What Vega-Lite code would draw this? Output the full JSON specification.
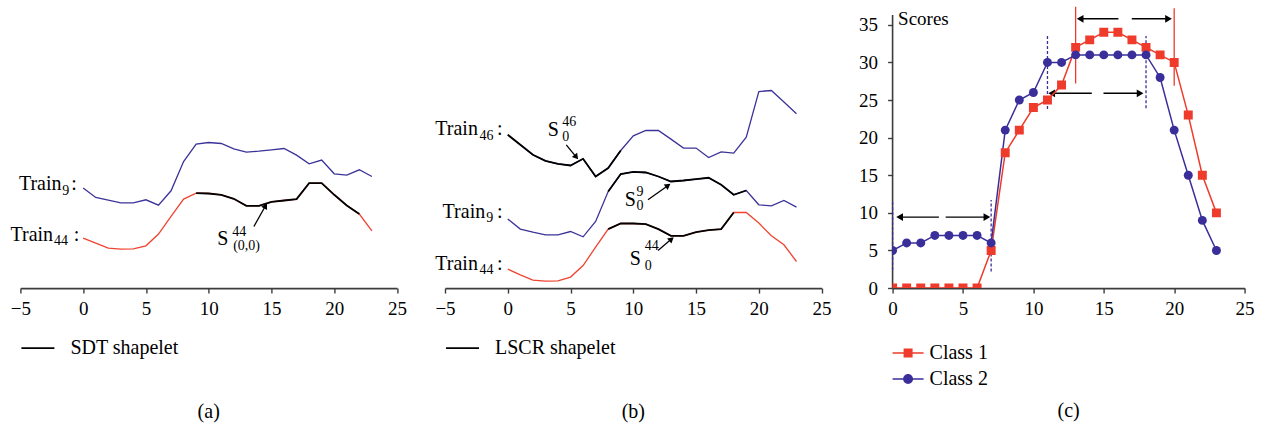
{
  "$schema": "https://vega.github.io/schema/vega-lite/v6.json",
  "padding": {"left": 9.4, "top": 6, "right": 5, "bottom": 5},
  "spacing": 26.6,
  "resolve": {"scale": {"color": "independent"}, "legend": {"color": "independent"}},
  "config": {
    "view": {"stroke": null},
    "font": "Liberation Serif",
    "axis": {"labelFont": "Liberation Serif", "labelFontSize": 19, "labelColor": "#000", "domainColor": "#3c3c3c", "tickColor": "#3c3c3c", "domainWidth": 1.6, "tickWidth": 1.4, "grid": false, "titleFont": "Liberation Serif", "titleFontWeight": "normal", "titleColor": "#000", "labelOverlap": false, "labelFlush": false},
    "legend": {"labelFont": "Liberation Serif", "labelFontSize": 20, "labelColor": "#000"},
    "title": {"font": "Liberation Serif", "fontSize": 20, "fontWeight": "normal", "color": "#000"}
  },
  "datasets": {
    "a_series": [
      {"s": "Train9", "x": 0, "v": 100}, {"s": "Train9", "x": 1, "v": 90.6}, {"s": "Train9", "x": 2, "v": 88}, {"s": "Train9", "x": 3, "v": 85.3}, {"s": "Train9", "x": 4, "v": 85.3}, {"s": "Train9", "x": 5, "v": 88.3}, {"s": "Train9", "x": 6, "v": 83}, {"s": "Train9", "x": 7, "v": 97.3}, {"s": "Train9", "x": 8, "v": 126.6}, {"s": "Train9", "x": 9, "v": 144}, {"s": "Train9", "x": 10, "v": 145.6}, {"s": "Train9", "x": 11, "v": 144.6}, {"s": "Train9", "x": 12, "v": 139.3}, {"s": "Train9", "x": 13, "v": 136}, {"s": "Train9", "x": 14, "v": 137}, {"s": "Train9", "x": 15, "v": 138.3}, {"s": "Train9", "x": 16, "v": 139.6}, {"s": "Train9", "x": 17, "v": 133}, {"s": "Train9", "x": 18, "v": 124.3}, {"s": "Train9", "x": 19, "v": 128}, {"s": "Train9", "x": 20, "v": 114.3}, {"s": "Train9", "x": 21, "v": 113}, {"s": "Train9", "x": 22, "v": 118.3}, {"s": "Train9", "x": 23, "v": 111.6},
      {"s": "Train44", "x": 0, "v": 50}, {"s": "Train44", "x": 1, "v": 45}, {"s": "Train44", "x": 2, "v": 40}, {"s": "Train44", "x": 3, "v": 39}, {"s": "Train44", "x": 4, "v": 39.3}, {"s": "Train44", "x": 5, "v": 42.3}, {"s": "Train44", "x": 6, "v": 54}, {"s": "Train44", "x": 7, "v": 71.6}, {"s": "Train44", "x": 8, "v": 89}, {"s": "Train44", "x": 9, "v": 95}, {"s": "Train44", "x": 10, "v": 94.6}, {"s": "Train44", "x": 11, "v": 93.3}, {"s": "Train44", "x": 12, "v": 89.3}, {"s": "Train44", "x": 13, "v": 82.3}, {"s": "Train44", "x": 14, "v": 82.3}, {"s": "Train44", "x": 15, "v": 86.3}, {"s": "Train44", "x": 16, "v": 87.6}, {"s": "Train44", "x": 17, "v": 89}, {"s": "Train44", "x": 18, "v": 105}, {"s": "Train44", "x": 19, "v": 105}, {"s": "Train44", "x": 20, "v": 93.3}, {"s": "Train44", "x": 21, "v": 82.6}, {"s": "Train44", "x": 22, "v": 74}, {"s": "Train44", "x": 23, "v": 57.3}
    ],
    "b_series": [
      {"s": "Train46", "x": 0, "v": 153.3}, {"s": "Train46", "x": 1, "v": 143.3}, {"s": "Train46", "x": 2, "v": 133.3}, {"s": "Train46", "x": 3, "v": 127.3}, {"s": "Train46", "x": 4, "v": 124.3}, {"s": "Train46", "x": 5, "v": 122.6}, {"s": "Train46", "x": 6, "v": 129.3}, {"s": "Train46", "x": 7, "v": 111.6}, {"s": "Train46", "x": 8, "v": 120}, {"s": "Train46", "x": 9, "v": 137.6}, {"s": "Train46", "x": 10, "v": 152.3}, {"s": "Train46", "x": 11, "v": 157.6}, {"s": "Train46", "x": 12, "v": 157.6}, {"s": "Train46", "x": 13, "v": 149}, {"s": "Train46", "x": 14, "v": 140}, {"s": "Train46", "x": 15, "v": 140}, {"s": "Train46", "x": 16, "v": 130.6}, {"s": "Train46", "x": 17, "v": 136.3}, {"s": "Train46", "x": 18, "v": 135}, {"s": "Train46", "x": 19, "v": 151}, {"s": "Train46", "x": 20, "v": 196.6}, {"s": "Train46", "x": 21, "v": 197.6}, {"s": "Train46", "x": 22, "v": 186}, {"s": "Train46", "x": 23, "v": 174.3},
      {"s": "Train9", "x": 0, "v": 69}, {"s": "Train9", "x": 1, "v": 59}, {"s": "Train9", "x": 2, "v": 56}, {"s": "Train9", "x": 3, "v": 53.3}, {"s": "Train9", "x": 4, "v": 53.3}, {"s": "Train9", "x": 5, "v": 56.6}, {"s": "Train9", "x": 6, "v": 51.3}, {"s": "Train9", "x": 7, "v": 66.6}, {"s": "Train9", "x": 8, "v": 96.6}, {"s": "Train9", "x": 9, "v": 114}, {"s": "Train9", "x": 10, "v": 116.3}, {"s": "Train9", "x": 11, "v": 115.6}, {"s": "Train9", "x": 12, "v": 111.6}, {"s": "Train9", "x": 13, "v": 106.6}, {"s": "Train9", "x": 14, "v": 107.6}, {"s": "Train9", "x": 15, "v": 109}, {"s": "Train9", "x": 16, "v": 110.3}, {"s": "Train9", "x": 17, "v": 103.3}, {"s": "Train9", "x": 18, "v": 93.3}, {"s": "Train9", "x": 19, "v": 97.6}, {"s": "Train9", "x": 20, "v": 83.3}, {"s": "Train9", "x": 21, "v": 82.3}, {"s": "Train9", "x": 22, "v": 87.6}, {"s": "Train9", "x": 23, "v": 81},
      {"s": "Train44", "x": 0, "v": 19}, {"s": "Train44", "x": 1, "v": 13.3}, {"s": "Train44", "x": 2, "v": 8}, {"s": "Train44", "x": 3, "v": 7}, {"s": "Train44", "x": 4, "v": 7.3}, {"s": "Train44", "x": 5, "v": 11}, {"s": "Train44", "x": 6, "v": 22.6}, {"s": "Train44", "x": 7, "v": 41}, {"s": "Train44", "x": 8, "v": 59}, {"s": "Train44", "x": 9, "v": 64.6}, {"s": "Train44", "x": 10, "v": 64.6}, {"s": "Train44", "x": 11, "v": 64}, {"s": "Train44", "x": 12, "v": 59}, {"s": "Train44", "x": 13, "v": 52.3}, {"s": "Train44", "x": 14, "v": 52.3}, {"s": "Train44", "x": 15, "v": 56}, {"s": "Train44", "x": 16, "v": 58}, {"s": "Train44", "x": 17, "v": 59}, {"s": "Train44", "x": 18, "v": 75.6}, {"s": "Train44", "x": 19, "v": 75.6}, {"s": "Train44", "x": 20, "v": 65}, {"s": "Train44", "x": 21, "v": 52.3}, {"s": "Train44", "x": 22, "v": 43.3}, {"s": "Train44", "x": 23, "v": 26.6}
    ],
    "a_text": [
      {"x": -5.12, "v": 98.3, "t": "Train", "r": "main"},
      {"x": -1.67, "v": 93.3, "t": "9", "r": "script"},
      {"x": -0.95, "v": 98.3, "t": ":", "r": "main"},
      {"x": -5.79, "v": 47.3, "t": "Train", "r": "main"},
      {"x": -2.33, "v": 43.3, "t": "44", "r": "script"},
      {"x": -0.75, "v": 47.3, "t": ":", "r": "main"},
      {"x": 10.68, "v": 43.3, "t": "S", "r": "main"},
      {"x": 11.87, "v": 52.3, "t": "44", "r": "script"},
      {"x": 11.95, "v": 38.3, "t": "(0,0)", "r": "script"}
    ],
    "b_text": [
      {"x": -5.77, "v": 153.3, "t": "Train", "r": "main"},
      {"x": -2.26, "v": 148.3, "t": "46", "r": "script"},
      {"x": -0.85, "v": 153.3, "t": ":", "r": "main"},
      {"x": -5.19, "v": 70, "t": "Train", "r": "main"},
      {"x": -1.72, "v": 65.6, "t": "9", "r": "script"},
      {"x": -0.85, "v": 70, "t": ":", "r": "main"},
      {"x": -5.77, "v": 18.3, "t": "Train", "r": "main"},
      {"x": -2.26, "v": 14.3, "t": "44", "r": "script"},
      {"x": -0.85, "v": 18.3, "t": ":", "r": "main"},
      {"x": 3.19, "v": 151.6, "t": "S", "r": "main"},
      {"x": 4.34, "v": 161.6, "t": "46", "r": "script"},
      {"x": 4.34, "v": 146.6, "t": "0", "r": "script"},
      {"x": 9.31, "v": 81.6, "t": "S", "r": "main"},
      {"x": 10.25, "v": 91.6, "t": "9", "r": "script"},
      {"x": 10.25, "v": 78.3, "t": "0", "r": "script"},
      {"x": 9.71, "v": 23.3, "t": "S", "r": "main"},
      {"x": 10.91, "v": 38.3, "t": "44", "r": "script"},
      {"x": 10.91, "v": 18.3, "t": "0", "r": "script"}
    ],
    "a_arrows": [
      {"id": "a1", "x": 13.6, "v": 61.6, "x2": 14.53, "v2": 82.3}
    ],
    "b_arrows": [
      {"id": "b46", "x": 4.66, "v": 143.3, "x2": 5.46, "v2": 131},
      {"id": "b9", "x": 11.17, "v": 88.3, "x2": 12.77, "v2": 102.6},
      {"id": "b44", "x": 11.97, "v": 37.6, "x2": 13.04, "v2": 49}
    ],
    "c_scores": [
      {"cls": "Class 1", "x": 0, "y": 0}, {"cls": "Class 1", "x": 1, "y": 0}, {"cls": "Class 1", "x": 2, "y": 0}, {"cls": "Class 1", "x": 3, "y": 0}, {"cls": "Class 1", "x": 4, "y": 0}, {"cls": "Class 1", "x": 5, "y": 0}, {"cls": "Class 1", "x": 6, "y": 0}, {"cls": "Class 1", "x": 7, "y": 5}, {"cls": "Class 1", "x": 8, "y": 18}, {"cls": "Class 1", "x": 9, "y": 21}, {"cls": "Class 1", "x": 10, "y": 24}, {"cls": "Class 1", "x": 11, "y": 25}, {"cls": "Class 1", "x": 12, "y": 27}, {"cls": "Class 1", "x": 13, "y": 32}, {"cls": "Class 1", "x": 14, "y": 33}, {"cls": "Class 1", "x": 15, "y": 34}, {"cls": "Class 1", "x": 16, "y": 34}, {"cls": "Class 1", "x": 17, "y": 33}, {"cls": "Class 1", "x": 18, "y": 32}, {"cls": "Class 1", "x": 19, "y": 31}, {"cls": "Class 1", "x": 20, "y": 30}, {"cls": "Class 1", "x": 21, "y": 23}, {"cls": "Class 1", "x": 22, "y": 15}, {"cls": "Class 1", "x": 23, "y": 10},
      {"cls": "Class 2", "x": 0, "y": 5}, {"cls": "Class 2", "x": 1, "y": 6}, {"cls": "Class 2", "x": 2, "y": 6}, {"cls": "Class 2", "x": 3, "y": 7}, {"cls": "Class 2", "x": 4, "y": 7}, {"cls": "Class 2", "x": 5, "y": 7}, {"cls": "Class 2", "x": 6, "y": 7}, {"cls": "Class 2", "x": 7, "y": 6}, {"cls": "Class 2", "x": 8, "y": 21}, {"cls": "Class 2", "x": 9, "y": 25}, {"cls": "Class 2", "x": 10, "y": 26}, {"cls": "Class 2", "x": 11, "y": 30}, {"cls": "Class 2", "x": 12, "y": 30}, {"cls": "Class 2", "x": 13, "y": 31}, {"cls": "Class 2", "x": 14, "y": 31}, {"cls": "Class 2", "x": 15, "y": 31}, {"cls": "Class 2", "x": 16, "y": 31}, {"cls": "Class 2", "x": 17, "y": 31}, {"cls": "Class 2", "x": 18, "y": 31}, {"cls": "Class 2", "x": 19, "y": 28}, {"cls": "Class 2", "x": 20, "y": 21}, {"cls": "Class 2", "x": 21, "y": 15}, {"cls": "Class 2", "x": 22, "y": 9}, {"cls": "Class 2", "x": 23, "y": 5}
    ],
    "c_vlines": [
      {"k": "dotted", "x": 0, "y": 2.4, "y2": 11.7},
      {"k": "dotted", "x": 7, "y": 2.2, "y2": 11.7},
      {"k": "dotted", "x": 11, "y": 23.8, "y2": 33.5},
      {"k": "dotted", "x": 18, "y": 23.9, "y2": 33.5},
      {"k": "solid", "x": 13, "y": 27.2, "y2": 37.4},
      {"k": "solid", "x": 20, "y": 26.9, "y2": 37.2}
    ],
    "c_arrows": [
      {"side": "L", "x1": 0.5, "x2": 3.29, "y": 9.44},
      {"side": "R", "x1": 3.77, "x2": 6.7, "y": 9.44},
      {"side": "L", "x1": 11.3, "x2": 14.15, "y": 25.9},
      {"side": "R", "x1": 14.98, "x2": 17.58, "y": 25.9},
      {"side": "L", "x1": 13.32, "x2": 16.04, "y": 35.8},
      {"side": "R", "x1": 16.99, "x2": 19.6, "y": 35.8}
    ],
    "c_yaxis": [
      {"x": 0, "y": 0, "y2": 36.3}
    ]
  },
  "hconcat": [
    {
      "width": 376.6,
      "height": 282.1,
      "title": {"text": "(a)", "orient": "bottom", "anchor": "middle", "frame": "group", "offset": 43},
      "layer": [
        {
          "data": {"name": "a_series"},
          "mark": {"type": "line", "strokeWidth": 1.3},
          "encoding": {
            "x": {"field": "x", "type": "quantitative", "scale": {"domain": [-5, 25], "nice": false, "zero": false},
              "axis": {"title": null, "values": [-5, -2.5, 0, 2.5, 5, 7.5, 10, 12.5, 15, 17.5, 20, 22.5, 25], "labelExpr": "datum.value % 5 === 0 ? datum.label : ''", "tickSize": {"condition": {"test": "datum.value % 5 === 0", "value": 5}, "value": 3}, "labelPadding": 6}},
            "y": {"field": "v", "type": "quantitative", "scale": {"domain": [0, 282.1], "nice": false, "zero": false}, "axis": null},
            "color": {"field": "s", "type": "nominal", "scale": {"domain": ["Train9", "Train44", "SDT shapelet"], "range": ["#3b3399", "#ef4430", "#000000"]},
              "legend": {"values": ["SDT shapelet"], "title": null, "orient": "none", "legendX": 0, "legendY": 324.6, "symbolType": "stroke", "symbolSize": 1089, "symbolStrokeWidth": 1.8, "labelOffset": 15}}
          }
        },
        {
          "data": {"name": "a_series"},
          "transform": [{"filter": "datum.s === 'Train44' && datum.x >= 9 && datum.x <= 22"}],
          "mark": {"type": "line", "strokeWidth": 1.8, "color": "#000000"},
          "encoding": {"x": {"field": "x", "type": "quantitative"}, "y": {"field": "v", "type": "quantitative"}}
        },
        {
          "data": {"name": "a_text"},
          "transform": [{"filter": "datum.r === 'main'"}],
          "mark": {"type": "text", "align": "left", "baseline": "alphabetic", "fontSize": 20, "font": "Liberation Serif", "color": "#000"},
          "encoding": {"x": {"field": "x", "type": "quantitative"}, "y": {"field": "v", "type": "quantitative"}, "text": {"field": "t"}}
        },
        {
          "data": {"name": "a_text"},
          "transform": [{"filter": "datum.r === 'script'"}],
          "mark": {"type": "text", "align": "left", "baseline": "alphabetic", "fontSize": 14, "font": "Liberation Serif", "color": "#000"},
          "encoding": {"x": {"field": "x", "type": "quantitative"}, "y": {"field": "v", "type": "quantitative"}, "text": {"field": "t"}}
        },
        {
          "data": {"name": "a_arrows"},
          "mark": {"type": "rule", "strokeWidth": 1.3, "color": "#000"},
          "encoding": {"x": {"field": "x", "type": "quantitative"}, "y": {"field": "v", "type": "quantitative"}, "x2": {"field": "x2"}, "y2": {"field": "v2"}}
        },
        {
          "data": {"name": "a_arrows"},
          "transform": [{"filter": "datum.id === 'a1'"}],
          "mark": {"type": "point", "shape": "triangle-up", "filled": true, "color": "#000", "opacity": 1, "size": 45, "angle": 29.5},
          "encoding": {"x": {"field": "x2", "type": "quantitative"}, "y": {"field": "v2", "type": "quantitative"}}
        }
      ]
    },
    {
      "width": 376.6,
      "height": 282.1,
      "title": {"text": "(b)", "orient": "bottom", "anchor": "middle", "frame": "group", "offset": 43},
      "layer": [
        {
          "data": {"name": "b_series"},
          "mark": {"type": "line", "strokeWidth": 1.3},
          "encoding": {
            "x": {"field": "x", "type": "quantitative", "scale": {"domain": [-5, 25], "nice": false, "zero": false},
              "axis": {"title": null, "values": [-5, -2.5, 0, 2.5, 5, 7.5, 10, 12.5, 15, 17.5, 20, 22.5, 25], "labelExpr": "datum.value % 5 === 0 ? datum.label : ''", "tickSize": {"condition": {"test": "datum.value % 5 === 0", "value": 5}, "value": 3}, "labelPadding": 6}},
            "y": {"field": "v", "type": "quantitative", "scale": {"domain": [0, 282.1], "nice": false, "zero": false}, "axis": null},
            "color": {"field": "s", "type": "nominal", "scale": {"domain": ["Train46", "Train9", "Train44", "LSCR shapelet"], "range": ["#3b3399", "#3b3399", "#ef4430", "#000000"]},
              "legend": {"values": ["LSCR shapelet"], "title": null, "orient": "none", "legendX": 0, "legendY": 324.6, "symbolType": "stroke", "symbolSize": 1089, "symbolStrokeWidth": 1.8, "labelOffset": 15}}
          }
        },
        {
          "data": {"name": "b_series"},
          "transform": [{"filter": "(datum.s === 'Train46' && datum.x <= 9) || (datum.s === 'Train9' && datum.x >= 8 && datum.x <= 19) || (datum.s === 'Train44' && datum.x >= 8 && datum.x <= 18)"}],
          "mark": {"type": "line", "strokeWidth": 1.8, "color": "#000000"},
          "encoding": {"x": {"field": "x", "type": "quantitative"}, "y": {"field": "v", "type": "quantitative"}, "detail": {"field": "s", "type": "nominal"}}
        },
        {
          "data": {"name": "b_text"},
          "transform": [{"filter": "datum.r === 'main'"}],
          "mark": {"type": "text", "align": "left", "baseline": "alphabetic", "fontSize": 20, "font": "Liberation Serif", "color": "#000"},
          "encoding": {"x": {"field": "x", "type": "quantitative"}, "y": {"field": "v", "type": "quantitative"}, "text": {"field": "t"}}
        },
        {
          "data": {"name": "b_text"},
          "transform": [{"filter": "datum.r === 'script'"}],
          "mark": {"type": "text", "align": "left", "baseline": "alphabetic", "fontSize": 14, "font": "Liberation Serif", "color": "#000"},
          "encoding": {"x": {"field": "x", "type": "quantitative"}, "y": {"field": "v", "type": "quantitative"}, "text": {"field": "t"}}
        },
        {
          "data": {"name": "b_arrows"},
          "mark": {"type": "rule", "strokeWidth": 1.3, "color": "#000"},
          "encoding": {"x": {"field": "x", "type": "quantitative"}, "y": {"field": "v", "type": "quantitative"}, "x2": {"field": "x2"}, "y2": {"field": "v2"}}
        },
        {
          "data": {"name": "b_arrows"},
          "transform": [{"filter": "datum.id === 'b46'"}],
          "mark": {"type": "point", "shape": "triangle-up", "filled": true, "color": "#000", "opacity": 1, "size": 45, "angle": 141},
          "encoding": {"x": {"field": "x2", "type": "quantitative"}, "y": {"field": "v2", "type": "quantitative"}}
        },
        {
          "data": {"name": "b_arrows"},
          "transform": [{"filter": "datum.id === 'b9'"}],
          "mark": {"type": "point", "shape": "triangle-up", "filled": true, "color": "#000", "opacity": 1, "size": 45, "angle": 54.4},
          "encoding": {"x": {"field": "x2", "type": "quantitative"}, "y": {"field": "v2", "type": "quantitative"}}
        },
        {
          "data": {"name": "b_arrows"},
          "transform": [{"filter": "datum.id === 'b44'"}],
          "mark": {"type": "point", "shape": "triangle-up", "filled": true, "color": "#000", "opacity": 1, "size": 45, "angle": 49.6},
          "encoding": {"x": {"field": "x2", "type": "quantitative"}, "y": {"field": "v2", "type": "quantitative"}}
        }
      ]
    },
    {
      "width": 352,
      "height": 282.1,
      "title": {"text": "(c)", "orient": "bottom", "anchor": "middle", "frame": "group", "offset": 12},
      "layer": [
        {
          "data": {"name": "c_yaxis"},
          "mark": {"type": "rule", "strokeWidth": 1.6, "color": "#3c3c3c"},
          "encoding": {
            "x": {"field": "x", "type": "quantitative", "scale": {"domain": [0, 25], "nice": false, "zero": false},
              "axis": {"title": null, "values": [0, 2.5, 5, 7.5, 10, 12.5, 15, 17.5, 20, 22.5, 25], "labelExpr": "datum.value % 5 === 0 ? datum.label : ''", "tickSize": {"condition": {"test": "datum.value % 5 === 0", "value": 5}, "value": 3}, "labelPadding": 6}},
            "y": {"field": "y", "type": "quantitative", "scale": {"domain": [0, 37.5], "nice": false, "zero": false},
              "axis": {"domain": false, "values": [0, 2.5, 5, 7.5, 10, 12.5, 15, 17.5, 20, 22.5, 25, 27.5, 30, 32.5, 35], "labelExpr": "datum.value % 5 === 0 ? datum.label : ''", "tickSize": {"condition": {"test": "datum.value % 5 === 0", "value": 5}, "value": 3}, "labelPadding": 10, "title": "Scores", "titleAngle": 0, "titleAlign": "left", "titleBaseline": "alphabetic", "titleX": 5, "titleY": 18.8, "titleFontSize": 19}},
            "y2": {"field": "y2"}
          }
        },
        {
          "data": {"name": "c_vlines"},
          "transform": [{"filter": "datum.k === 'dotted'"}],
          "mark": {"type": "rule", "strokeWidth": 1.3, "color": "#3a2f9a", "strokeDash": [3, 2]},
          "encoding": {"x": {"field": "x", "type": "quantitative"}, "y": {"field": "y", "type": "quantitative"}, "y2": {"field": "y2"}}
        },
        {
          "data": {"name": "c_vlines"},
          "transform": [{"filter": "datum.k === 'solid'"}],
          "mark": {"type": "rule", "strokeWidth": 1.3, "color": "#ee3b2b"},
          "encoding": {"x": {"field": "x", "type": "quantitative"}, "y": {"field": "y", "type": "quantitative"}, "y2": {"field": "y2"}}
        },
        {
          "data": {"name": "c_arrows"},
          "mark": {"type": "rule", "strokeWidth": 1.4, "color": "#000"},
          "encoding": {"x": {"field": "x1", "type": "quantitative"}, "x2": {"field": "x2"}, "y": {"field": "y", "type": "quantitative"}}
        },
        {
          "data": {"name": "c_arrows"},
          "transform": [{"filter": "datum.side === 'L'"}],
          "mark": {"type": "point", "shape": "triangle-left", "filled": true, "color": "#000", "opacity": 1, "size": 60},
          "encoding": {"x": {"field": "x1", "type": "quantitative"}, "y": {"field": "y", "type": "quantitative"}}
        },
        {
          "data": {"name": "c_arrows"},
          "transform": [{"filter": "datum.side === 'R'"}],
          "mark": {"type": "point", "shape": "triangle-right", "filled": true, "color": "#000", "opacity": 1, "size": 60},
          "encoding": {"x": {"field": "x2", "type": "quantitative"}, "y": {"field": "y", "type": "quantitative"}}
        },
        {
          "data": {"name": "c_scores"},
          "mark": {"type": "line", "strokeWidth": 1.5, "clip": true},
          "encoding": {
            "x": {"field": "x", "type": "quantitative"},
            "y": {"field": "y", "type": "quantitative"},
            "color": {"field": "cls", "type": "nominal", "scale": {"domain": ["Class 1", "Class 2"], "range": ["#ee3b2b", "#3a2f9a"]},
              "legend": {"title": null, "orient": "none", "legendX": 0, "legendY": 331.5, "symbolSize": 961, "labelOffset": 6, "rowPadding": -7,
                "encode": {"symbols": {"update": {
                  "shape": {"signal": "datum.label === 'Class 1' ? 'M-1,-0.05L1,-0.05L1,0.05L-1,0.05Z M-0.29,-0.29L0.29,-0.29L0.29,0.29L-0.29,0.29Z' : 'M-1,-0.05L1,-0.05L1,0.05L-1,0.05Z M-0.32,0A0.32,0.32 0 1,1 0.32,0A0.32,0.32 0 1,1 -0.32,0Z'"},
                  "fill": {"signal": "datum.label === 'Class 1' ? '#ee3b2b' : '#3a2f9a'"},
                  "fillOpacity": {"value": 1},
                  "strokeWidth": {"value": 0}
                }}}}}
          }
        },
        {
          "data": {"name": "c_scores"},
          "transform": [{"filter": "datum.cls === 'Class 1'"}],
          "mark": {"type": "point", "shape": "square", "filled": true, "opacity": 1, "size": 80, "clip": true},
          "encoding": {
            "x": {"field": "x", "type": "quantitative"},
            "y": {"field": "y", "type": "quantitative"},
            "color": {"field": "cls", "type": "nominal"}
          }
        },
        {
          "data": {"name": "c_scores"},
          "transform": [{"filter": "datum.cls === 'Class 2'"}],
          "mark": {"type": "point", "shape": "circle", "filled": true, "opacity": 1, "size": 80, "clip": true},
          "encoding": {
            "x": {"field": "x", "type": "quantitative"},
            "y": {"field": "y", "type": "quantitative"},
            "color": {"field": "cls", "type": "nominal"}
          }
        }
      ]
    }
  ]
}
